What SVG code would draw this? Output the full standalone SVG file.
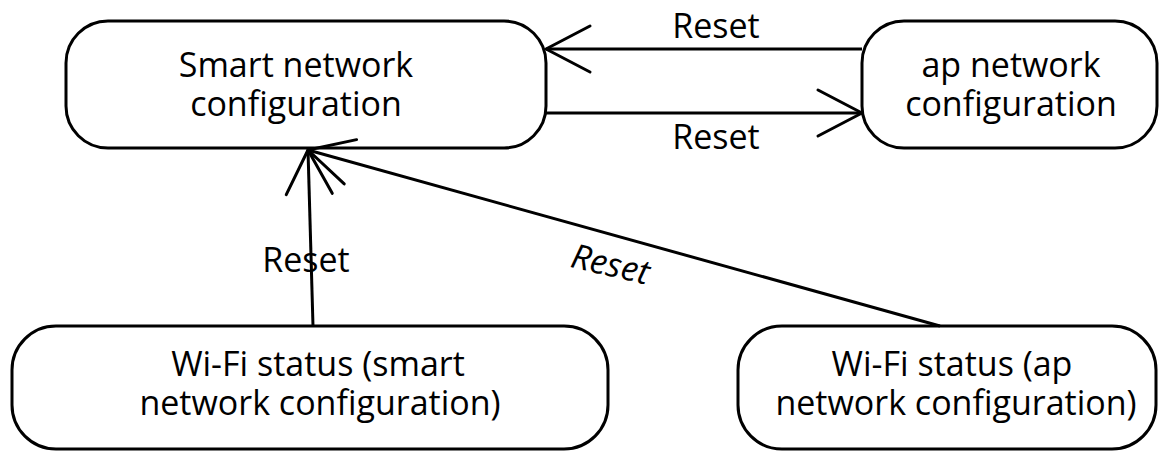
<svg xmlns="http://www.w3.org/2000/svg" width="1161" height="453" viewBox="0 0 1161 453">
<style>
.box{fill:#fff;stroke:#000;stroke-width:3}
.lbl{font-family:"Open Sans","Noto Sans","Liberation Sans",sans-serif;font-size:34px;fill:#000;text-anchor:middle}
.conn{fill:none;stroke:#000;stroke-width:3}
</style>
<defs>
<marker id="open" viewBox="-50 -30 60 60" refX="0" refY="0" markerWidth="60" markerHeight="60" markerUnits="userSpaceOnUse" orient="auto" overflow="visible">
<path d="M-44,-23 L0,0 L-44,23" fill="none" stroke="#000" stroke-width="3" stroke-linecap="round" stroke-linejoin="round"/>
</marker>
</defs>
<rect width="1161" height="453" fill="#fff"/>
<g id="smart">
<rect class="box" x="66" y="21" width="480" height="127" rx="42" ry="42"/>
<text class="lbl" x="296" y="77">Smart network</text>
<text class="lbl" x="296" y="116">configuration</text>
</g>
<g id="ap">
<rect class="box" x="862" y="21" width="295" height="127" rx="42" ry="42"/>
<text class="lbl" x="1011" y="77">ap network</text>
<text class="lbl" x="1011" y="116">configuration</text>
</g>
<g id="wifi-smart">
<rect class="box" x="12" y="326" width="596" height="123" rx="44" ry="44"/>
<text class="lbl" x="318" y="376">Wi-Fi status (smart</text>
<text class="lbl" x="320" y="415">network configuration)</text>
</g>
<g id="wifi-ap">
<rect class="box" x="738" y="326" width="418" height="123" rx="44" ry="44"/>
<text class="lbl" x="952" y="376">Wi-Fi status (ap</text>
<text class="lbl" x="956" y="415">network configuration)</text>
</g>
<g id="connectors">
<line class="conn" x1="862" y1="49" x2="546" y2="49" marker-end="url(#open)"/>
<line class="conn" x1="546" y1="113" x2="862" y2="113" marker-end="url(#open)"/>
<line class="conn" x1="313" y1="326" x2="308" y2="150" marker-end="url(#open)"/>
<line class="conn" x1="940" y1="326" x2="308" y2="150" marker-end="url(#open)"/>
<text class="lbl" x="716" y="38">Reset</text>
<text class="lbl" x="716" y="149">Reset</text>
<text class="lbl" x="306" y="272">Reset</text>
<text class="lbl" x="610" y="276" font-style="italic" transform="rotate(13 610 266)">Reset</text>
</g>
</svg>
